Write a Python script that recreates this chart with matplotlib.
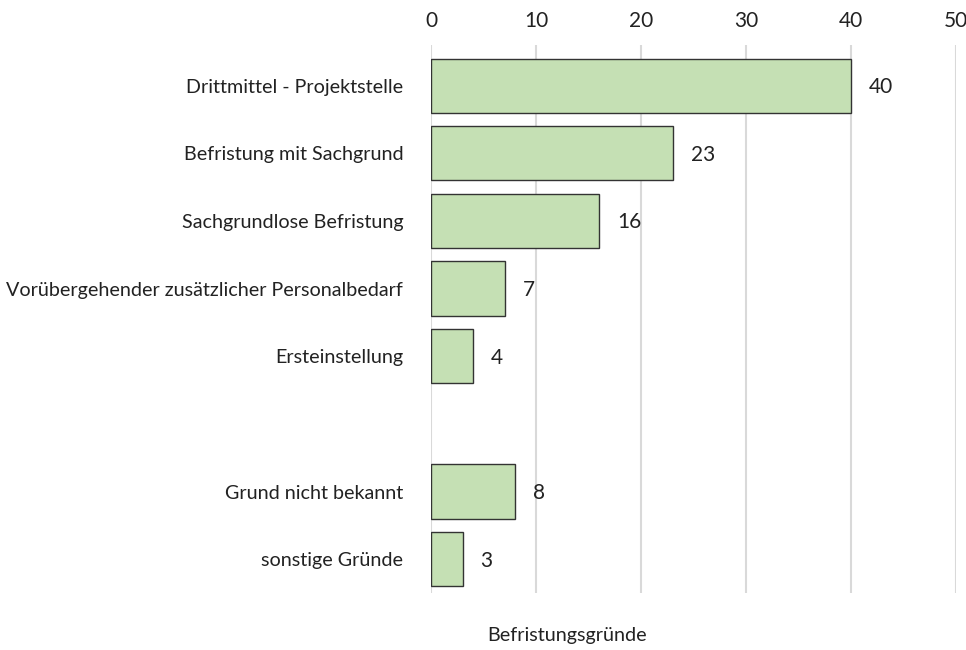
import matplotlib
matplotlib.use("Agg")
import matplotlib.pyplot as plt

categories = ["Drittmittel - Projektstelle", "Befristung mit Sachgrund", "Sachgrundlose Befristung",
              "Vorübergehender zusätzlicher Personalbedarf", "Ersteinstellung", "",
              "Grund nicht bekannt", "sonstige Gründe"]
values = [40, 23, 16, 7, 4, None, 8, 3]
xticks = [0, 10, 20, 30, 40, 50]
xlabel = "Befristungsgründe"

plt.rcParams['font.family'] = ['Lato', 'DejaVu Sans']
FS = 14.2

fig = plt.figure(figsize=(9.66, 6.5), dpi=100)
ax = fig.add_axes([431/966, 1-593/650, 525/966, 548/650])

pos = list(range(len(categories)))
for p, v in zip(pos, values):
    if v is None:
        continue
    ax.barh(p, v, height=0.8, color="#c5e0b4", edgecolor="#333333", linewidth=1, zorder=3)
    ax.annotate(str(v), (v, p), xytext=(13, -1), textcoords="offset points",
                va="center", ha="left", fontsize=15, color="#222222")

ax.set_ylim(len(categories)-0.5, -0.6)
ax.set_xlim(0, 50)
ax.set_yticks(pos)
ax.set_yticklabels(categories, fontsize=FS, color="#222222")
ax.set_xticks(xticks)
ax.set_xticklabels([str(t) for t in xticks], fontsize=15, color="#222222")
ax.xaxis.tick_top()
ax.tick_params(axis="x", length=0, pad=10)
ax.tick_params(axis="y", length=0, pad=20)
ax.grid(axis="x", color="#d9d9d9", linewidth=1.5, zorder=0)
for s in ax.spines.values():
    s.set_visible(False)

fig.text(567/966, 1-635/650, xlabel, ha="center", va="center", fontsize=FS, color="#222222")

fig.savefig("out.png", dpi=100)
